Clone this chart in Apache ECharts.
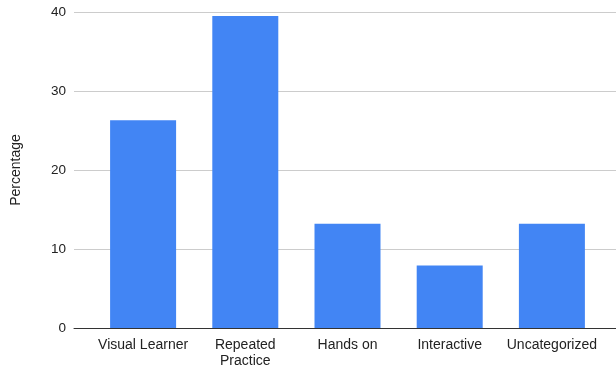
<!DOCTYPE html>
<html>
<head>
<meta charset="utf-8">
<script src="https://cdn.jsdelivr.net/npm/echarts@6/dist/echarts.min.js"></script>
<style>
  html, body { margin: 0; padding: 0; background: #fff; }
  #chart { width: 616px; height: 370px; }
</style>
</head>
<body>
<div id="chart"></div>
<script>
// Learning preference breakdown
const categories = ['Visual Learner', 'Repeated\nPractice', 'Hands on', 'Interactive', 'Uncategorized'];
const percentages = [26.3, 39.5, 13.2, 7.9, 13.2];
const yTicks = { min: 0, max: 40, interval: 10 };
const yTitle = 'Percentage';

const font = 'Arial, "Liberation Sans", sans-serif';
const chart = echarts.init(document.getElementById('chart'), null, { renderer: 'canvas' });

chart.setOption({
  animation: false,
  backgroundColor: '#ffffff',
  grid: [
    // full-width frame carrying the gridlines and baseline
    { left: 74, right: 0, top: 12, bottom: 42 },
    // inset band area for the bars
    { left: 92, width: 511, top: 12, bottom: 42 }
  ],
  xAxis: [
    {
      gridIndex: 0, type: 'category', data: [''],
      axisLine: { show: true, lineStyle: { color: '#333333', width: 1 } },
      axisTick: { show: false }, axisLabel: { show: false }, splitLine: { show: false }
    },
    {
      gridIndex: 1, type: 'category', data: categories,
      axisLine: { show: false }, axisTick: { show: false },
      axisLabel: { color: '#222222', fontSize: 14, fontFamily: font, margin: 9, lineHeight: 16, interval: 0 }
    }
  ],
  yAxis: [
    {
      gridIndex: 0, type: 'value', min: yTicks.min, max: yTicks.max, interval: yTicks.interval,
      name: yTitle, nameLocation: 'middle', nameGap: 51,
      nameTextStyle: { color: '#222222', fontSize: 14, fontFamily: font },
      axisLine: { show: false }, axisTick: { show: false },
      axisLabel: { color: '#222222', fontSize: 13.5, fontFamily: font, margin: 8 },
      splitLine: { lineStyle: { color: '#cccccc', width: 1 } }
    },
    {
      gridIndex: 1, type: 'value', min: yTicks.min, max: yTicks.max, interval: yTicks.interval,
      show: false, splitLine: { show: false }
    }
  ],
  series: [
    {
      type: 'bar', xAxisIndex: 1, yAxisIndex: 1,
      data: percentages, barWidth: 66,
      itemStyle: { color: '#4285F4' }
    }
  ]
});
</script>
</body>
</html>
